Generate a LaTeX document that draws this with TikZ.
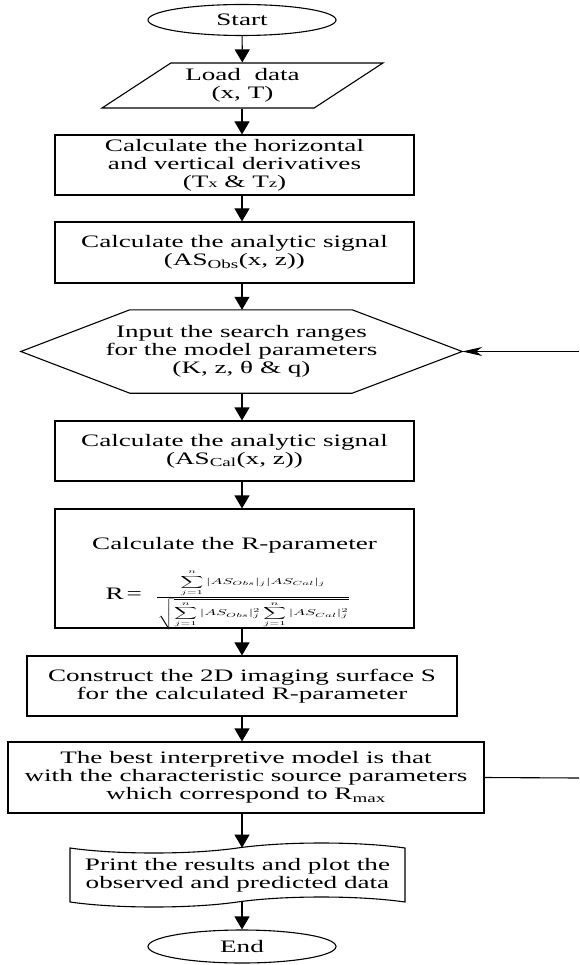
\documentclass[tikz,border=0pt]{standalone}
\usepackage{fontspec}
\setmainfont{Liberation Serif}[FakeStretch=1.55]
\usepackage{graphicx}
\usetikzlibrary{shapes.geometric,shapes.symbols,arrows.meta}
\tikzset{
  txt/.style={align=center, inner sep=1pt, font=\fontsize{17.5}{18}\selectfont},
  flow/.style={txt, draw, line width=1.1pt},
  terminal/.style={flow, ellipse, minimum width=188pt, minimum height=31pt},
  iobox/.style={flow, trapezium, trapezium left angle=32.7, trapezium right angle=147.3,
    trapezium stretches=true, minimum width=281pt, minimum height=45pt},
  procbox/.style={flow, rectangle, minimum width=359pt, minimum height=60pt},
  rangebox/.style={txt, rectangle, minimum width=441pt, minimum height=83pt},
  printbox/.style={flow, tape, tape bend top=in and out, tape bend bottom=in and out,
    tape bend height=10pt, minimum width=335pt, minimum height=64pt},
}
\newcommand{\Rcorr}{\scalebox{1.6}[0.85]{\fontsize{10}{11}\selectfont
  $\displaystyle\frac{\displaystyle\sum_{j=1}^{n}|AS_{Obs}|_j|AS_{Cal}|_j}
  {\sqrt{\displaystyle\sum_{j=1}^{n}|AS_{Obs}|_j^2\sum_{j=1}^{n}|AS_{Cal}|_j^2}}$}}
\begin{document}
\begin{tikzpicture}[x=1pt, y=-1pt]
  \useasboundingbox (0,0) rectangle (579,965);
  \coordinate (axis) at (242,0);
  \node[terminal] (start) at (242,20) {Start};
  \node[iobox] (load) at (242.5,85.5) {Load\ \ data\\(x, T)};
  \node[procbox] (deriv) at (234.5,165) {Calculate the horizontal\\and vertical derivatives\\(T{\fontsize{12}{12}\selectfont x} \& T{\fontsize{12}{12}\selectfont z})};
  \node[procbox, minimum height=61pt] (asobs) at (234.5,252.5) {Calculate the analytic signal\\(AS\textsubscript{Obs}(x, z))};
  \node[rangebox] (ranges) at (241.5,351.5) {Input the search ranges\\for the model parameters\\(K, z, θ \& q)};
  \draw[line width=1.1pt] (ranges.west) -- ([xshift=109pt]ranges.north west)
    -- ([xshift=-110pt]ranges.north east) -- (ranges.east)
    -- ([xshift=-110pt]ranges.south east) -- ([xshift=109pt]ranges.south west) -- cycle;
  \node[procbox] (ascal) at (234.5,451) {Calculate the analytic signal\\(AS\textsubscript{Cal}(x, z))};
  \node[procbox, minimum height=119pt] (rpar) at (234.5,568.5) {};
  \node[txt] (rtitle) at (234.5,545) {Calculate the R-parameter};
  \node[txt] (rform) at (228,600) {R\,=\ \ \Rcorr};
  \node[procbox, minimum width=430pt] (surface) at (242,686) {Construct the 2D imaging surface S\\for the calculated R-parameter};
  \node[procbox, minimum width=476pt, minimum height=71pt] (best) at (246,777.5) {The best interpretive model is that\\with the characteristic source parameters\\which correspond to R\textsubscript{max}};
  \node[printbox] (print) at (237.5,875) {Print the results and plot the\\observed and predicted data};
  \node[terminal, minimum height=33pt] (end) at (242,946.5) {End};
  \coordinate (fbout) at (579,778);
  \coordinate (fbin) at (579,351.5);
  \begin{scope}[line width=1.1pt, -{Triangle[length=13pt,width=15pt]}]
    \draw (start) to (load);
    \draw (load.south -| axis) to (deriv.north -| axis);
    \draw (deriv.south -| axis) to (asobs.north -| axis);
    \draw (asobs.south -| axis) to (ranges.north -| axis);
    \draw (ranges.south -| axis) to (ascal.north -| axis);
    \draw (ascal.south -| axis) to (rpar.north -| axis);
    \draw (rpar.south -| axis) to (surface.north -| axis);
    \draw (surface.south -| axis) to (best.north -| axis);
    \draw (best.south -| axis) to (print.north -| axis);
    \draw (print.south -| axis) to (end.north -| axis);
  \end{scope}
  \draw[line width=1.1pt] (best.east) to (fbout);
  \draw[line width=1.1pt, -{Stealth[length=20pt,width=9pt,inset=6pt]}] (fbin) to (ranges.east);
\end{tikzpicture}
\end{document}
